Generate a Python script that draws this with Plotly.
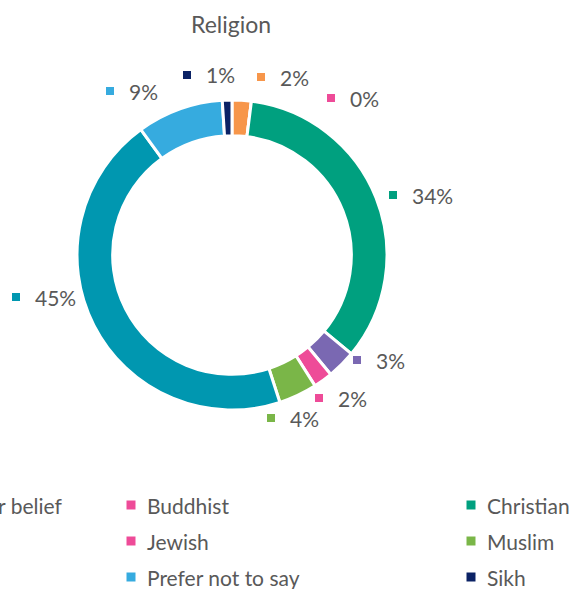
import plotly.graph_objects as go

W, H = 573, 589

categories = ["Any other religion or belief", "Buddhist", "Christian", "Hindu", "Jewish",
              "Muslim", "No religion or belief", "Prefer not to say", "Sikh"]
values = [2, 0, 34, 3, 2, 4, 45, 9, 1]
colors = ["#F7964A", "#EE4B98", "#00A07F", "#7A68B2", "#EE4B98",
          "#7AB648", "#0097B0", "#36ABDF", "#0B2265"]
pct_labels = [f"{v}%" for v in values]

# layout-only helpers (pixel -> paper)
def px(x):
    return x / W

def py(y):
    return 1 - y / H

TXT = "#595959"
FONT = "Lato"

cx, cy, R = 232, 255, 155

fig = go.Figure()
fig.add_trace(go.Pie(
    labels=categories, values=values, hole=0.77, sort=False,
    direction="clockwise", rotation=0,
    marker=dict(colors=colors, line=dict(color="white", width=3)),
    textinfo="none", showlegend=False, hoverinfo="label+percent",
    domain=dict(x=[px(cx - R), px(cx + R)], y=[py(cy + R), py(cy - R)]),
))

annotations = []
shapes = []

# data label placement (square centre x, y) per category
label_pos = [(261, 77), (331, 98), (393, 195), (357, 360), (319, 398),
             (271, 418), (16, 297), (110, 91), (187, 75)]
sq = 4
for (x, y), col, t in zip(label_pos, colors, pct_labels):
    shapes.append(dict(type="rect", xref="paper", yref="paper",
                       x0=px(x - sq), x1=px(x + sq), y0=py(y + sq), y1=py(y - sq),
                       fillcolor=col, line=dict(width=0)))
    annotations.append(dict(text=t, x=px(x + 17), y=py(y), xref="paper", yref="paper",
                            xanchor="left", yanchor="middle", showarrow=False,
                            font=dict(family=FONT, size=21, color=TXT)))

# manual legend, 3 columns, row-major
col_x = [-199, 131, 471]
row_y = [505, 541, 577]
lsq = 4.5
for i, (name, col) in enumerate(zip(categories, colors)):
    r, c = divmod(i, 3)
    x, y = col_x[c], row_y[r]
    shapes.append(dict(type="rect", xref="paper", yref="paper",
                       x0=px(x - lsq), x1=px(x + lsq), y0=py(y + lsq), y1=py(y - lsq),
                       fillcolor=col, line=dict(width=0)))
    annotations.append(dict(text=name, x=px(x + 14), y=py(y), xref="paper", yref="paper",
                            xanchor="left", yanchor="middle", showarrow=False,
                            font=dict(family=FONT, size=21, color=TXT)))

annotations.append(dict(text="Religion", x=px(231), y=py(24), xref="paper", yref="paper",
                        xanchor="center", yanchor="middle", showarrow=False,
                        font=dict(family=FONT, size=23, color=TXT)))

fig.update_layout(
    width=W, height=H, margin=dict(l=0, r=0, t=0, b=0),
    paper_bgcolor="white", plot_bgcolor="white",
    annotations=annotations, shapes=shapes,
)

fig.write_html("out.html")
